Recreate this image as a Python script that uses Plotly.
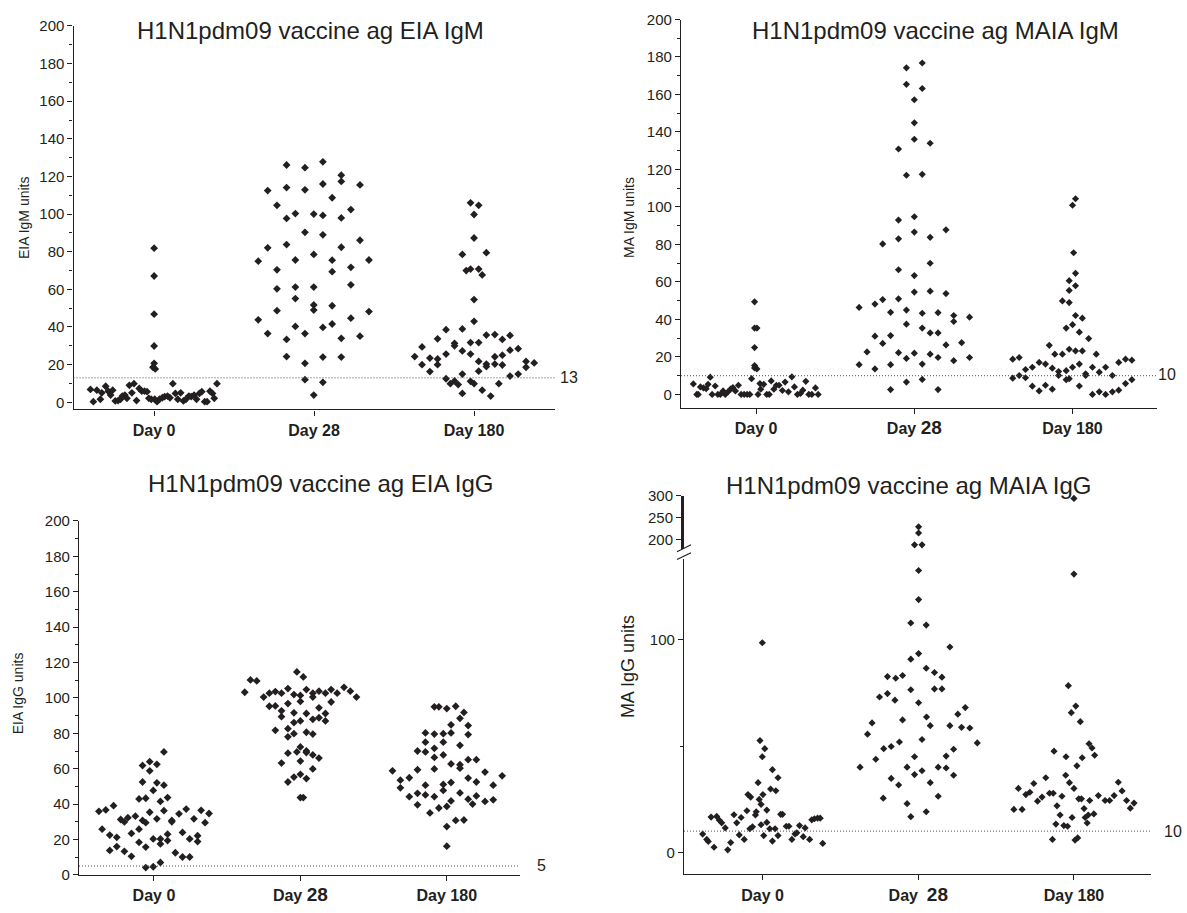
import plotly.graph_objects as go

W, H = 1187, 913
INK = "#231f20"
DOT = "#4d4d4f"
FONT = "Liberation Sans, Arial, Helvetica, sans-serif"

days = ["Day 0", "Day 28", "Day 180"]

# ---------------- EIA IgM ----------------
eia_igm_d0_y = [6.8, 0.3, 6.4, 1.6, 5.0, 8.5, 5.9, 3.8, 6.4, 0.7, 0.9, 1.6, 3.3, 3.8, 2.1,
                9.0, 5.0, 9.9, 0.9, 7.3, 5.9, 5.9, 5.6, 2.1, 1.6,
                18.6, 20.7, 17.7, 29.9, 46.8, 67.1, 81.9,
                1.6, 0.3, 1.6, 2.4, 3.0, 3.3, 2.4, 9.9, 4.7, 1.6, 5.0, 0.7, 1.6, 3.3,
                3.0, 3.8, 1.6, 4.7, 5.6, 0.3, 0.3, 5.9, 4.7, 2.1, 9.9]
eia_igm_d0_dx = [-0.398, -0.380, -0.358, -0.336, -0.327, -0.303, -0.287, -0.272, -0.259, -0.243,
                 -0.225, -0.210, -0.199, -0.183, -0.170, -0.155, -0.139, -0.126, -0.110, -0.093,
                 -0.077, -0.060, -0.044, -0.033, -0.018,
                 -0.007, 0.0, 0.007, 0.0, 0.0, 0.0, 0.0,
                 0.004, 0.018, 0.033, 0.051, 0.066, 0.084, 0.099, 0.117, 0.133, 0.148, 0.166,
                 0.183, 0.199, 0.217, 0.232, 0.250, 0.265, 0.283, 0.298, 0.316, 0.331, 0.349,
                 0.365, 0.376, 0.393]

eia_igm_d28_y = [75.0, 43.8,
                 112.5, 82.1, 36.5,
                 104.7, 70.4, 60.3, 48.7,
                 126.1, 114.1, 97.7, 83.8, 33.4, 24.3,
                 100.3, 75.6, 61.2, 55.1, 40.3,
                 124.7, 112.9, 90.3, 36.5, 20.7, 12.0,
                 100.0, 78.6, 61.2, 51.7, 49.0, 3.8,
                 127.8, 116.0, 99.3, 89.0, 39.8, 24.0, 10.6,
                 108.7, 75.5, 69.4, 51.3, 41.6,
                 120.7, 117.4, 98.0, 82.4, 34.0, 24.0,
                 102.4, 71.7, 62.4, 44.7,
                 115.5, 86.1, 35.1,
                 75.6, 48.2]
eia_igm_d28_dx = [-0.349] * 2 + [-0.290] * 3 + [-0.232] * 4 + [-0.172] * 6 + [-0.117] * 5 + \
                 [-0.057] * 6 + [-0.002] * 6 + [0.055] * 7 + [0.113] * 5 + [0.170] * 6 + \
                 [0.230] * 4 + [0.287] * 3 + [0.343] * 2

eia_igm_d180_y = [24.3, 29.4, 20.0, 23.5, 16.3, 33.7, 23.0, 20.0, 38.6, 25.6, 12.5, 9.9,
                  31.3, 30.0, 11.3, 9.4, 78.6, 39.0, 27.3, 15.0, 4.7, 70.0,
                  106.0, 70.8, 31.7, 25.6, 11.1, 99.8, 87.3, 54.6, 43.0, 9.9,
                  104.7, 70.8, 31.7, 21.7, 16.5, 67.7, 6.4, 79.5, 35.7, 20.3, 19.0, 3.3,
                  36.0, 24.2, 20.3, 9.9, 33.4, 25.0, 19.8, 35.5, 27.7, 13.9, 28.5, 15.0,
                  21.7, 18.6, 20.9]
eia_igm_d180_dx = [-0.371, -0.325, -0.325, -0.276, -0.276, -0.228, -0.228, -0.228, -0.175, -0.175,
                   -0.175, -0.148, -0.122, -0.122, -0.122, -0.099, -0.073, -0.073, -0.073, -0.073,
                   -0.073, -0.049, -0.022, -0.022, -0.022, -0.022, -0.022, 0.0, 0.0, 0.0, 0.0, 0.0,
                   0.029, 0.029, 0.029, 0.029, 0.029, 0.051, 0.051, 0.077, 0.077, 0.077, 0.077,
                   0.104, 0.130, 0.130, 0.130, 0.155, 0.177, 0.177, 0.177, 0.225, 0.225, 0.225,
                   0.276, 0.276, 0.325, 0.325, 0.376]

# ---------------- MAIA IgM ----------------
maia_igm_d0_y = [5.6, 0, 0, 4.0, 3.5, 3.1, 5.4, 9.2, 0, 4.5, 0, 0, 1.9, 0, 1.4, 2.8, 3.7, 1.9,
                 4.9, 0, 0, 0, 0, 8.4,
                 15.4, 25.0, 14.1, 49.4, 35.4, 35.4, 13.6, 0, 5.8,
                 2.8, 5.4, 0, 0, 7.2, 2.8, 4.9, 4.9, 2.1, 6.6, 1.4, 9.4, 4.0, 0, 0.5, 2.3,
                 7.0, 0, 0, 3.5, 0]
maia_igm_d0_dx = [-0.397, -0.375, -0.366, -0.352, -0.333, -0.316, -0.304, -0.290, -0.278, -0.259,
                  -0.242, -0.226, -0.209, -0.195, -0.178, -0.162, -0.147, -0.131, -0.112, -0.095,
                  -0.076, -0.057, -0.040, -0.029,
                  -0.010, -0.010, -0.010, -0.010, -0.010, 0.005, 0.005, 0.012, 0.024,
                  0.029, 0.048, 0.067, 0.083, 0.095, 0.112, 0.128, 0.145, 0.166, 0.183, 0.204,
                  0.226, 0.242, 0.261, 0.280, 0.295, 0.314, 0.333, 0.352, 0.375, 0.392]

maia_igm_d28_y = [46.4, 15.9,
                  22.7,
                  48.2, 31.1, 13.6,
                  80.3, 50.6, 27.2,
                  43.8, 31.4, 15.9, 2.6,
                  130.9, 93.0, 83.0, 66.5, 51.0, 22.3,
                  174.2, 165.4, 116.9, 45.0, 37.5, 19.2, 6.6,
                  157.2, 144.9, 136.1, 94.8, 86.6, 63.4, 54.6, 22.0,
                  176.8, 163.2, 117.4, 43.3, 35.4, 16.2, 8.0,
                  134.0, 83.8, 70.0, 55.1, 32.8, 21.5,
                  43.6, 32.8, 19.7, 2.6,
                  87.8, 53.8, 26.4,
                  42.1, 38.9, 18.0,
                  27.6,
                  41.2, 19.7]
maia_igm_d28_dx = [-0.349] * 2 + [-0.299] + [-0.249] * 3 + [-0.200] * 3 + [-0.150] * 4 + \
                  [-0.100] * 6 + [-0.050] * 7 + [0.0] * 8 + [0.050] * 7 + [0.100] * 6 + \
                  [0.150] * 4 + [0.200] * 3 + [0.249] * 3 + [0.299] + [0.349] * 2

maia_igm_d180_y = [18.8, 8.7, 19.7, 10.1, 13.3, 8.9, 14.5, 4.4, 17.1, 1.9, 16.2, 4.9, 26.2,
                   14.0, 2.8, 21.5, 12.2, 10.1, 21.5, 49.9, 35.4, 12.7, 7.9,
                   49.0, 55.5, 60.7, 24.1, 8.4, 100.9, 37.2, 14.5, 75.6,
                   104.4, 58.0, 64.6, 42.1, 23.2, 16.2, 4.5, 33.2, 40.7, 23.2, 10.1, 11.0,
                   29.8, 14.5, 0, 21.5, 11.9, 1.4, 14.5, 0, 10.1, 1.4, 17.1, 2.3, 18.8, 5.8,
                   18.3, 7.9]
maia_igm_d180_dx = [-0.378, -0.378, -0.337, -0.337, -0.297, -0.297, -0.254, -0.254, -0.211, -0.211,
                    -0.171, -0.171, -0.147, -0.128, -0.128, -0.112, -0.088, -0.088, -0.064, -0.064,
                    -0.040, -0.040, -0.040, -0.021, -0.021, -0.021, -0.021, -0.021, 0.0, 0.0, 0.0,
                    0.007, 0.019, 0.019, 0.019, 0.019, 0.019, 0.043, 0.043, 0.043, 0.062, 0.062,
                    0.083, 0.083, 0.102, 0.126, 0.126, 0.150, 0.169, 0.169, 0.209, 0.209, 0.252,
                    0.252, 0.292, 0.292, 0.335, 0.335, 0.375, 0.375]

# ---------------- EIA IgG ----------------
eia_igg_d0_y = [35.9, 25.8, 36.7, 22.5, 13.8, 39.1, 21.2, 16.0, 31.3, 29.9, 13.3, 32.3, 23.4,
                10.5, 33.2, 25.8, 18.4, 42.9, 61.8, 52.5, 30.8, 43.3, 29.5, 15.7, 4.1,
                64.0, 58.8, 35.4, 47.7, 20.3, 4.6, 62.5, 52.0, 31.7, 41.5, 20.3, 17.5, 7.0,
                69.5, 50.7, 36.3, 43.7, 23.0, 19.4, 30.8, 30.0, 12.5, 34.5, 24.0, 10.1,
                37.2, 20.3, 10.1, 31.7, 22.1, 18.8, 36.5, 29.5, 34.7]
eia_igg_d0_dx = [-0.376, -0.354, -0.329, -0.302, -0.302, -0.276, -0.254, -0.254, -0.227, -0.202,
                 -0.202, -0.178, -0.154, -0.154, -0.127, -0.102, -0.102, -0.102, -0.078, -0.078,
                 -0.078, -0.056, -0.056, -0.056, -0.056, -0.029, -0.029, -0.029, -0.005, -0.005,
                 -0.005, 0.020, 0.020, 0.020, 0.044, 0.044, 0.044, 0.044, 0.068, 0.068, 0.068,
                 0.093, 0.093, 0.093, 0.122, 0.122, 0.146, 0.171, 0.195, 0.195, 0.220, 0.244,
                 0.244, 0.273, 0.298, 0.298, 0.322, 0.349, 0.376]

eia_igg_d28_y = [103.2, 110.2, 109.6, 100.5,
                 102.7, 95.3,
                 103.6, 95.5, 81.7,
                 102.7, 92.7, 89.4, 63.2,
                 105.3, 96.8, 82.6, 78.0, 68.8, 52.5,
                 101.9, 91.6, 86.1, 79.8, 55.3,
                 114.7, 69.5,
                 101.4, 98.0, 87.0, 72.3, 64.3, 56.8, 43.7,
                 111.9, 43.7,
                 104.7, 91.2, 80.6, 70.0, 69.1, 54.4,
                 102.7, 100.5, 87.9, 79.6, 67.8, 59.9,
                 103.8, 94.4, 88.8, 66.0,
                 102.7, 91.2, 87.0,
                 104.7, 97.7,
                 102.7, 106.0, 103.8, 100.5]
eia_igg_d28_dx = [-0.380, -0.341, -0.298, -0.251] + [-0.212] * 2 + [-0.171] * 3 + [-0.129] * 4 + \
                 [-0.085] * 6 + [-0.044] * 5 + [-0.024] * 2 + [0.0] * 7 + [0.020] * 2 + \
                 [0.041] * 6 + [0.085] * 6 + [0.127] * 4 + [0.171] * 3 + [0.210] * 2 + \
                 [0.251, 0.298, 0.341, 0.383]

eia_igg_d180_y = [58.8, 53.5, 49.2, 54.9, 44.2, 59.4, 70.0, 46.1, 39.6,
                  80.2, 75.0, 69.5, 50.7, 45.2, 35.0,
                  95.0, 79.6, 71.5, 66.4, 59.9, 44.2, 95.0, 37.8,
                  79.8, 75.0, 67.8, 51.1, 47.7, 94.0, 38.7, 27.3, 16.2,
                  80.2, 84.8, 62.7, 52.2, 41.8, 95.3, 30.8,
                  73.2, 88.5, 62.3, 60.3, 46.3, 91.8, 31.0,
                  84.4, 79.3, 65.1, 54.7, 42.8, 40.0, 65.1, 52.5, 44.6,
                  58.1, 41.5, 50.7, 42.4, 56.0]
eia_igg_d180_dx = [-0.371, -0.317, -0.317, -0.256, -0.256] + [-0.200] * 4 + [-0.146] * 5 + \
                  [-0.115] + [-0.085] * 6 + [-0.054] * 2 + [-0.024] * 5 + [0.0] * 4 + \
                  [0.029] * 5 + [0.061] * 2 + [0.090] * 5 + [0.117] * 2 + [0.146] * 5 + \
                  [0.176] + [0.202] * 3 + [0.261] * 2 + [0.317] * 2 + [0.378]

# ---------------- MAIA IgG (broken axis) ----------------
maia_igg_d0_y = [8.6, 6.1, 5.1, 16.6, 2.4, 16.9, 15.1, 13.9, 11.5, 1.2, 4.6, 17.7, 13.9,
                 8.2, 16.4, 6.1, 19.6, 27.2, 11.1, 26.0, 12.0, 17.6, 19.1, 32.8, 24.9,
                 22.6, 13.0, 52.6, 27.2, 7.9, 48.8, 45.0, 14.1, 19.9, 11.1, 29.8, 5.3,
                 38.9, 11.1, 29.0, 7.9, 35.1, 17.9, 17.9, 12.3, 12.3, 6.1, 8.7, 9.2,
                 12.6, 7.4, 11.5, 6.1, 15.3, 15.8, 16.1, 16.1, 4.2, 98.6]
maia_igg_d0_dx = [-0.385, -0.359, -0.349, -0.331, -0.312, -0.295, -0.278, -0.263, -0.240, -0.224,
                  -0.205, -0.184, -0.166, -0.150, -0.138, -0.118, -0.101, -0.094, -0.082, -0.077,
                  -0.065, -0.046, -0.041, -0.029, -0.022, -0.010, -0.010, -0.017, 0.002, 0.007,
                  0.014, -0.002, 0.027, 0.027, 0.046, 0.051, 0.063, 0.063, 0.080, 0.085, 0.099,
                  0.099, 0.116, 0.128, 0.152, 0.169, 0.188, 0.208, 0.220, 0.237, 0.261, 0.273,
                  0.302, 0.316, 0.333, 0.353, 0.370, 0.386, -0.002]

maia_igg_d28_y = [40.1, 55.6, 60.9, 43.8, 73.1, 25.5, 48.8, 74.7, 82.7, 34.8, 49.8, 71.6,
                  81.9, 31.7, 51.9, 62.3, 83.2, 22.9, 40.1, 16.8, 76.5, 90.9, 107.9, 45.0,
                  36.6, 70.4, 93.5, 118.9, 132.6, 188, 188, 215, 229, 53.1, 38.4, 19.1,
                  106.9, 86.6, 63.7, 59.6, 32.8, 84.6, 76.9, 26.4, 40.1, 82.4, 76.9, 45.3,
                  39.7, 96.6, 59.6, 48.5, 36.3, 65.0, 58.8, 68.1, 58.5, 51.5]
maia_igg_d28_dx = [-0.374, -0.326, -0.297, -0.273, -0.249, -0.225, -0.222, -0.198, -0.198, -0.174,
                   -0.174, -0.150, -0.145, -0.126, -0.121, -0.101, -0.101, -0.072, -0.072, -0.048,
                   -0.048, -0.048, -0.048, -0.024, -0.024, 0.002, 0.002, 0.002, 0.002, -0.024,
                   0.024, 0.002, 0.002, 0.024, 0.024, 0.051, 0.051, 0.051, 0.053, 0.077, 0.077,
                   0.104, 0.104, 0.128, 0.128, 0.152, 0.152, 0.179, 0.179, 0.203, 0.203, 0.227,
                   0.227, 0.254, 0.278, 0.302, 0.331, 0.379]

maia_igg_d180_y = [20.2, 20.2, 30.1, 27.2, 28.3, 32.4, 24.1, 26.0, 35.1, 27.8, 27.8, 6.1,
                   47.6, 13.3, 21.9, 17.6, 26.4, 12.6, 45.0, 36.3, 12.3, 78.4, 32.8, 65.7,
                   16.4, 30.1, 5.8, 68.8, 6.8, 40.7, 25.2, 61.5, 25.2, 44.5, 20.6, 16.4,
                   13.8, 17.6, 51.1, 24.4, 49.1, 18.1, 45.7, 26.7, 24.4, 24.4, 26.7, 33.0,
                   28.9, 24.4, 20.8, 23.2, 294, 130.9]
maia_igg_d180_dx = [-0.386, -0.333, -0.357, -0.309, -0.283, -0.258, -0.234, -0.205, -0.181, -0.157,
                    -0.133, -0.138, -0.128, -0.116, -0.109, -0.089, -0.077, -0.065, -0.051, -0.053,
                    -0.041, -0.036, -0.029, -0.017, -0.012, 0.0, 0.007, 0.012, 0.024, 0.019,
                    0.031, 0.041, 0.048, 0.053, 0.065, 0.072, 0.085, 0.092, 0.097, 0.101, 0.116,
                    0.128, 0.133, 0.157, 0.200, 0.229, 0.258, 0.285, 0.309, 0.338, 0.362, 0.386,
                    0.0, 0.0]

# cut-offs drawn as dotted lines
cutoff_eia_igm = 13
cutoff_maia_igm = 10
cutoff_eia_igg = 5
cutoff_maia_igg = 10
break_low, break_high = 150, 179


def fx(p):
    return p / W


def fy(p):
    return 1 - p / H


fig = go.Figure()


def add_groups(xa, ya, groups, size, ya_upper=None):
    for i, (ys, dxs) in enumerate(groups):
        lo_x, lo_y, hi_x, hi_y = [], [], [], []
        for v, d in zip(ys, dxs):
            if ya_upper is not None and v > break_low:
                hi_x.append(i + d)
                hi_y.append(v)
            else:
                lo_x.append(i + d)
                lo_y.append(v)
        mk = dict(symbol="diamond", size=size, color=INK, line=dict(width=0))
        fig.add_trace(go.Scatter(x=lo_x, y=lo_y, mode="markers", marker=mk, xaxis=xa, yaxis=ya,
                                 cliponaxis=False, hoverinfo="skip", showlegend=False))
        if hi_y:
            fig.add_trace(go.Scatter(x=hi_x, y=hi_y, mode="markers", marker=mk, xaxis=xa,
                                     yaxis=ya_upper, cliponaxis=False, hoverinfo="skip",
                                     showlegend=False))


add_groups("x", "y", [(eia_igm_d0_y, eia_igm_d0_dx), (eia_igm_d28_y, eia_igm_d28_dx),
                      (eia_igm_d180_y, eia_igm_d180_dx)], 6)
add_groups("x2", "y2", [(maia_igm_d0_y, maia_igm_d0_dx), (maia_igm_d28_y, maia_igm_d28_dx),
                        (maia_igm_d180_y, maia_igm_d180_dx)], 5.5)
add_groups("x3", "y3", [(eia_igg_d0_y, eia_igg_d0_dx), (eia_igg_d28_y, eia_igg_d28_dx),
                        (eia_igg_d180_y, eia_igg_d180_dx)], 6)
add_groups("x4", "y4", [(maia_igg_d0_y, maia_igg_d0_dx), (maia_igg_d28_y, maia_igg_d28_dx),
                        (maia_igg_d180_y, maia_igg_d180_dx)], 5.5, ya_upper="y5")

tick_font = dict(family=FONT, size=15, color=INK)
xtick_font = dict(family=FONT, size=16, color=INK)
big28 = "<span style='font-size:19px'>28</span>"


def xaxis(dom, rng, anchor, labels):
    return dict(domain=[fx(dom[0]), fx(dom[1])], range=rng, anchor=anchor,
                showline=True, linecolor=INK, linewidth=1.2, ticks="outside", ticklen=5,
                tickwidth=1, tickcolor=INK, tickvals=[0, 1, 2], ticktext=labels,
                tickfont=xtick_font, showgrid=False, zeroline=False, ticklabelstandoff=1)


def yaxis(dom, rng, anchor, **kw):
    d = dict(domain=[fy(dom[1]), fy(dom[0])], range=rng, anchor=anchor,
             showline=True, linecolor=INK, linewidth=1.2, ticks="outside", ticklen=5,
             tickwidth=1, tickcolor=INK, tickfont=tick_font, showgrid=False, zeroline=False)
    d.update(kw)
    return d


minor10 = dict(ticks="outside", ticklen=3, tickcolor=INK, tickwidth=1, dtick=10, showgrid=False)
lab_plain = ["<b>%s</b>" % d for d in days]
lab_big = ["<b>Day 0</b>", "<b>Day %s</b>" % big28, "<b>Day 180</b>"]
lab_gap = ["<b>Day 0</b>", "<b>Day\u00a0 %s</b>" % big28, "<b>Day 180</b>"]

fig.update_layout(
    width=W, height=H, margin=dict(l=0, r=0, t=0, b=0), autosize=False,
    paper_bgcolor="white", plot_bgcolor="white", showlegend=False,
    xaxis=xaxis((73.5, 555.3), [-0.504, 2.508], "y", lab_plain),
    yaxis=yaxis((17.3, 408), [-3.8, 200], "x", tickmode="linear", tick0=0, dtick=20, minor=minor10),
    xaxis2=xaxis((681, 1157), [-0.475, 2.534], "y2", lab_big),
    yaxis2=yaxis((10.7, 406.7), [-7.3, 200], "x2", tickmode="linear", tick0=0, dtick=20, minor=minor10),
    xaxis3=xaxis((79, 520), [-0.512, 2.5], "y3", lab_big),
    yaxis3=yaxis((521.7, 882.3), [0, 200], "x3", tickmode="linear", tick0=0, dtick=20, minor=minor10),
    xaxis4=xaxis((684, 1151), [-0.505, 2.495], "y4", lab_gap),
    yaxis4=yaxis((560, 881.7), [-10.3, 138.2], "x4", tickvals=[0, 100],
                 minor=dict(ticks="outside", ticklen=3, tickcolor=INK, tickvals=[50], showgrid=False)),
    yaxis5=yaxis((496, 550), [break_high, 300], "x4", tickvals=[200, 250, 300], linewidth=3),
)

# cut-off lines across each panel
for xr, yr, val in [("x", "y", cutoff_eia_igm), ("x2", "y2", cutoff_maia_igm),
                    ("x3", "y3", cutoff_eia_igg), ("x4", "y4", cutoff_maia_igg)]:
    fig.add_shape(type="line", xref=xr + " domain", yref=yr, x0=0, x1=1, y0=val, y1=val,
                  line=dict(color=DOT, width=1, dash="1px,2px"))

# break marks on the MAIA IgG axis
for yc in (549.5, 557.5):
    fig.add_shape(type="line", xref="paper", yref="paper", x0=fx(677), x1=fx(691),
                  y0=fy(yc + 3.5), y1=fy(yc - 3.5), line=dict(color=INK, width=1.2))

ann = []
titles = [("H1N1pdm09 vaccine ag EIA IgM", 310.5, 21.7),
          ("H1N1pdm09 vaccine ag MAIA IgM", 935.7, 22),
          ("H1N1pdm09 vaccine ag EIA IgG", 321, 484),
          ("H1N1pdm09 vaccine ag MAIA IgG", 908.5, 485.5)]
for t, x, y in titles:
    ann.append(dict(text=t, x=fx(x), y=fy(y), xref="paper", yref="paper", showarrow=False,
                    xanchor="center", yanchor="middle", font=dict(family=FONT, size=24, color=INK)))

ytitles = [("EIA IgM units", 24, 213, 14), ("MA IgM units", 629, 213, 14),
           ("EIA IgG units", 18.3, 697, 14), ("MA IgG units", 627.6, 670, 18)]
for t, x, y, s in ytitles:
    ann.append(dict(text=t, x=fx(x), y=fy(y), xref="paper", yref="paper", showarrow=False,
                    textangle=-90, xanchor="center", yanchor="middle",
                    font=dict(family=FONT, size=s, color=INK)))

cut_labels = [(str(cutoff_eia_igm), 569, 375), (str(cutoff_maia_igm), 1166.7, 372),
              (str(cutoff_eia_igg), 541.7, 873), (str(cutoff_maia_igg), 1173, 838.5)]
for t, x, y in cut_labels:
    ann.append(dict(text=t, x=fx(x), y=fy(y), xref="paper", yref="paper", showarrow=False,
                    xanchor="center", yanchor="middle", font=dict(family=FONT, size=16, color=INK)))

fig.update_layout(annotations=ann)
fig.write_html("out.html")
